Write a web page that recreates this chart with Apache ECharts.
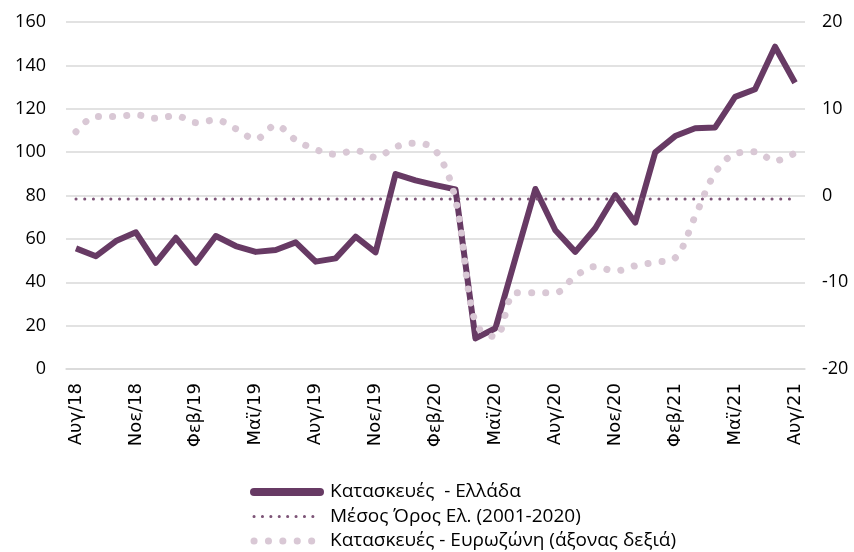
<!DOCTYPE html>
<html>
<head>
<meta charset="utf-8">
<script src="https://cdn.jsdelivr.net/npm/echarts@6/dist/echarts.min.js"></script>
<style>
  html, body { margin: 0; padding: 0; background: #fff; }
  #chart { width: 854px; height: 552px; }
</style>
</head>
<body>
<div id="chart"></div>
<script>
// months Αυγ/18 .. Αυγ/21
var months = [
  "Αυγ/18", "Σεπ/18", "Οκτ/18", "Νοε/18", "Δεκ/18", "Ιαν/19", "Φεβ/19", "Μαρ/19", "Απρ/19",
  "Μαϊ/19", "Ιουν/19", "Ιουλ/19", "Αυγ/19", "Σεπ/19", "Οκτ/19", "Νοε/19", "Δεκ/19", "Ιαν/20",
  "Φεβ/20", "Μαρ/20", "Απρ/20", "Μαϊ/20", "Ιουν/20", "Ιουλ/20", "Αυγ/20", "Σεπ/20", "Οκτ/20",
  "Νοε/20", "Δεκ/20", "Ιαν/21", "Φεβ/21", "Μαρ/21", "Απρ/21", "Μαϊ/21", "Ιουν/21", "Ιουλ/21",
  "Αυγ/21"
];

// construction, Greece (left axis)
var greece = [
  55.6, 52, 59, 63, 49, 60.5, 49, 61.3, 56.7, 54, 54.9, 58.4, 49.5, 51, 61, 53.8, 89.9, 87,
  84.8, 82.8, 14.1, 18.8, 51, 83, 64, 54, 64.9, 80.2, 67.5, 99.9, 107.4, 111, 111.4, 125.5,
  129, 148.6, 132
];

// long-run average 2001-2020 (left axis)
var avgLevel = 78.4;

// construction, euro area (right axis)
var euroArea = [
  7.35, 9.1, 9.1, 9.3, 8.9, 9.2, 8.4, 8.7, 7.7, 6.5, 8.1, 6.4, 5.3, 4.75, 5.2, 4.4, 5.6, 6.05,
  5.2, -0.45, -14.7, -16.3, -11.2, -11.2, -11.2, -9.3, -8.2, -8.7, -8.1, -7.7, -7.2, -2.4, 2.6,
  4.8, 5.05, 4.0, 4.9
];

var names = [
  "Κατασκευές  - Ελλάδα",
  "Μέσος Όρος Ελ. (2001-2020)",
  "Κατασκευές - Ευρωζώνη (άξονας δεξιά)"
];

var dark = "#673a64";
var avgColor = "#7d5477";
var light = "#d9c8d5";

var chart = echarts.init(document.getElementById("chart"));
var font = "'Open Sans', 'Liberation Sans', sans-serif";

chart.setOption({
  animation: false,
  grid: { left: 66, right: 49, top: 22, bottom: 183 },
  legend: {
    data: [
      { name: names[0], lineStyle: { width: 8, cap: "round", type: "solid" } },
      { name: names[1], lineStyle: { width: 3, cap: "round", type: [0.1, 8.3] } },
      { name: names[2], lineStyle: { width: 7, cap: "round", type: [0.1, 14.3] } }
    ],
    orient: "vertical",
    left: 250,
    top: 482,
    padding: 0,
    itemWidth: 66,
    itemHeight: 14,
    itemGap: 4.5,
    itemStyle: { opacity: 0 },
    textStyle: {
      fontFamily: font,
      fontSize: 19,
      lineHeight: 20,
      color: "#000",
      padding: [0, 0, 0, 5]
    }
  },
  xAxis: {
    type: "category",
    data: months,
    boundaryGap: true,
    axisLine: { lineStyle: { color: "#d9d9d9", width: 1.5 } },
    axisTick: { interval: 2, length: 6, lineStyle: { color: "#d9d9d9", width: 1.5 } },
    axisLabel: {
      interval: 2,
      rotate: 90,
      margin: 14,
      fontFamily: "'DejaVu Sans', sans-serif",
      fontSize: 18,
      color: "#000"
    }
  },
  yAxis: [
    {
      type: "value",
      min: 0,
      max: 160,
      interval: 20,
      axisLine: { show: false },
      axisTick: { show: false },
      splitLine: { lineStyle: { color: "#d9d9d9", width: 1.5 } },
      axisLabel: { margin: 20, fontFamily: font, fontSize: 18, color: "#000" }
    },
    {
      type: "value",
      min: -20,
      max: 20,
      interval: 10,
      axisLine: { show: false },
      axisTick: { show: false },
      splitLine: { show: false },
      axisLabel: { margin: 17, fontFamily: font, fontSize: 18, color: "#000" }
    }
  ],
  series: [
    {
      name: names[0],
      type: "line",
      data: greece,
      yAxisIndex: 0,
      symbol: "none",
      z: 2,
      lineStyle: { color: dark, width: 6, join: "round" },
      itemStyle: { color: dark }
    },
    {
      name: names[1],
      type: "line",
      data: months.map(function () { return avgLevel; }),
      yAxisIndex: 0,
      symbol: "none",
      z: 3,
      lineStyle: { color: avgColor, width: 3, type: [0.1, 8.6], cap: "round" },
      itemStyle: { color: avgColor }
    },
    {
      name: names[2],
      type: "line",
      data: euroArea,
      yAxisIndex: 1,
      symbol: "none",
      smooth: 0.35,
      z: 4,
      lineStyle: { color: light, width: 7, type: [0.1, 14], cap: "round" },
      itemStyle: { color: light }
    }
  ]
});
</script>
</body>
</html>
